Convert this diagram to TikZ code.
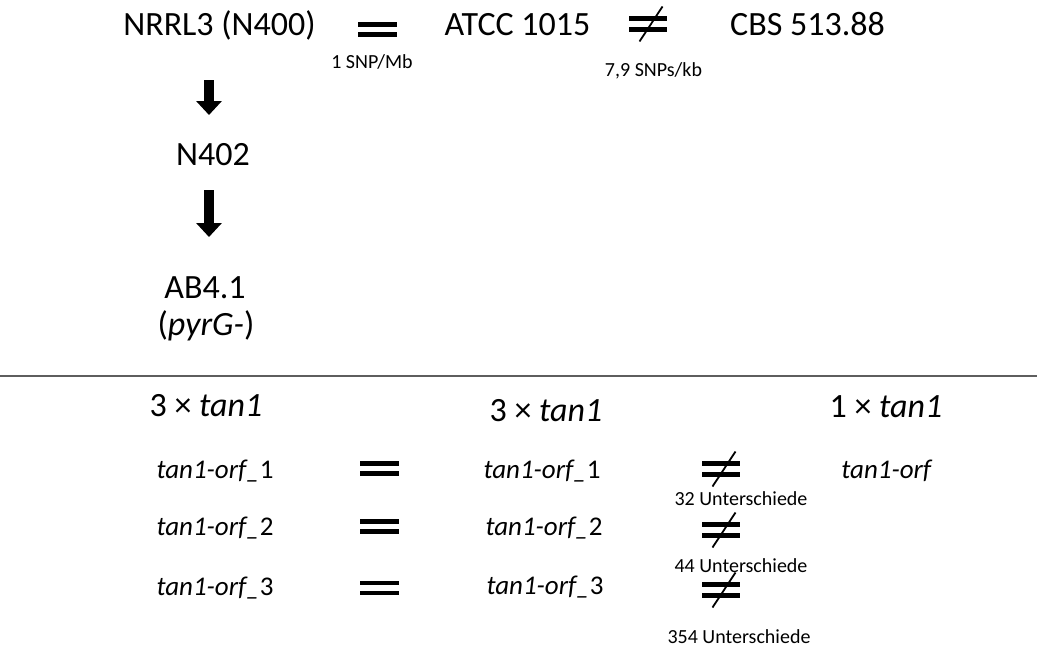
\documentclass[tikz,border=0pt]{standalone}
\usepackage{fontspec}
\setmainfont{Carlito}
\usetikzlibrary{arrows.meta}
\tikzset{
  big/.style={font=\fontsize{34}{40}\selectfont, inner sep=0pt, anchor=base},
  mid/.style={font=\fontsize{27}{32}\selectfont, inner sep=0pt, anchor=base},
  small/.style={font=\fontsize{20}{24}\selectfont, inner sep=0pt, anchor=base},
  blockarrow/.style={line width=10.5pt, -{Triangle[width=25pt,length=14pt]}},
  eqbars/.pic={\fill (-19.5,-7.3) rectangle (19.5,-2.7); \fill (-19.5,2.7) rectangle (19.5,7.3);},
  nebars/.pic={\fill (-19,-7.8) rectangle (19,-3.2); \fill (-19,3.2) rectangle (19,7.8);
               \draw[line width=1.8pt] (-8,17.5) -- (15,-17.5);},
}
\begin{document}
\begin{tikzpicture}[x=1pt,y=-1pt]
\useasboundingbox (0,0) rectangle (1037,646);
% top row
\node[big] (nrrl) at (219.5,35) {NRRL3 (N400)};
\pic at (377.5,29.5) {eqbars};
\node[small] (snp1) at (372,68) {1 SNP/Mb};
\node[big] (atcc) at (517.5,35) {ATCC 1015};
\pic at (647.5,24) {nebars};
\node[small] (snp79) at (653.5,76) {7,9 SNPs/kb};
\node[big] (cbs) at (807.5,35) {CBS 513.88};
% lineage
\node[big] (n402) at (213,165) {N402};
\node[big] (ab41) at (205,298) {AB4.1};
\node[big] (pyrg) at (206,335) {(\textit{pyrG-})};
\coordinate (a1s) at (209,80);
\coordinate (a1e) at (209,115);
\coordinate (a2s) at (209,190);
\coordinate (a2e) at (209,237);
\draw[blockarrow] (a1s) -- (a1e);
\draw[blockarrow] (a2s) -- (a2e);
% separator
\coordinate (l0) at (0,375.6);
\coordinate (l1) at (1037,375.6);
\draw[line width=1.8pt, color=black!63] (l0) -- (l1);
% bottom headings
\node[big] (h1) at (206,416) {3 × \textit{tan1}};
\node[big] (h2) at (546,421) {3 × \textit{tan1}};
\node[big] (h3) at (886,417) {1 × \textit{tan1}};
% rows
\node[mid] (l1o) at (215,478) {\textit{tan1-orf\_}1};
\node[mid] (l2o) at (215,535) {\textit{tan1-orf\_}2};
\node[mid] (l3o) at (215,595) {\textit{tan1-orf\_}3};
\pic at (379,468.5) {eqbars};
\pic at (379,526.5) {eqbars};
\pic at (379,588) {eqbars};
\node[mid] (m1o) at (542,478) {\textit{tan1-orf\_}1};
\node[mid] (m2o) at (544,535) {\textit{tan1-orf\_}2};
\node[mid] (m3o) at (545,594) {\textit{tan1-orf\_}3};
\pic at (720.5,469) {nebars};
\pic at (720.5,530) {nebars};
\pic at (720.5,590) {nebars};
\node[small] (d1) at (741,505) {32 Unterschiede};
\node[small] (d2) at (741,572) {44 Unterschiede};
\node[small] (d3) at (739,643) {354 Unterschiede};
\node[mid] (r1o) at (887,478) {\textit{tan1-orf}};
\end{tikzpicture}
\end{document}
